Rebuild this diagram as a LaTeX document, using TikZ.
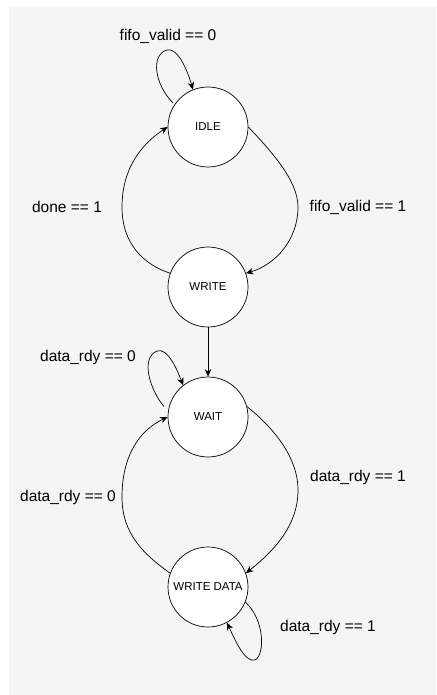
\documentclass[tikz,border=0pt]{standalone}
\usepackage{fontspec}
\setmainfont{Liberation Sans}
\usetikzlibrary{arrows.meta}
\definecolor{bgc}{HTML}{F5F5F5}
\begin{document}
\begin{tikzpicture}[x=1pt,y=-1pt,
  state/.style={circle,draw,fill=white,minimum size=80pt,inner sep=0pt,font=\fontsize{11.5}{13}\selectfont,line width=0.7pt},
  tr/.style={-{Stealth[length=7.5pt,width=6.5pt]},line width=0.7pt},
  lbl/.style={font=\fontsize{15.5}{18}\selectfont,inner sep=0pt}]
\useasboundingbox (0,0) rectangle (436,695);
\fill[bgc] (9,7) rectangle (436,695);
\node[state] (idle) at (208,127) {IDLE};
\node[state] (write) at (208,287) {WRITE};
\node[state] (wait) at (208,417) {WAIT};
\node[state] (wd) at (208,587) {WRITE DATA};
% IDLE self loop
\draw[tr] ([shift={(-2,-1)}]idle.145) .. controls (155,85) and (150,55) .. (167,50) .. controls (178,47) and (188,72) .. (idle.112);
\node[lbl] (l1) at (168,36) {fifo\_valid == 0};
% IDLE -> WRITE
\draw[tr] (idle.east) .. controls (270,150) and (298,180) .. (298,207) .. controls (298,240) and (275,265) .. (write.20);
\node[lbl] (l2) at (358,207) {fifo\_valid == 1};
% WRITE -> IDLE
\draw[tr] (write.160) .. controls (145,265) and (122,245) .. (122,207) .. controls (122,170) and (140,145) .. (idle.180);
\node[lbl] (l3) at (67,207) {done == 1};
% WRITE -> WAIT
\draw[tr] (write.south) -- (wait.north);
% WAIT self loop
\draw[tr] ([shift={(-5,0)}]wait.165) .. controls (150,390) and (140,358) .. (157,351) .. controls (168,347) and (178,372) .. (wait.128);
\node[lbl] (l4) at (88,357) {data\_rdy == 0};
% WAIT -> WRITE DATA
\draw[tr] (wait.15) .. controls (270,425) and (298,455) .. (298,490) .. controls (298,525) and (275,550) .. (wd.20);
\node[lbl] (l5) at (358,477) {data\_rdy == 1};
% WRITE DATA -> WAIT
\draw[tr] (wd.160) .. controls (145,555) and (122,535) .. (122,497) .. controls (122,455) and (140,430) .. (wait.180);
\node[lbl] (l6) at (68,497) {data\_rdy == 0};
% WRITE DATA self loop
\draw[tr] (wd.-22) .. controls (265,620) and (265,655) .. (255,660) .. controls (245,663) and (235,640) .. (wd.-62);
\node[lbl] (l7) at (328,627) {data\_rdy == 1};
\end{tikzpicture}
\end{document}
